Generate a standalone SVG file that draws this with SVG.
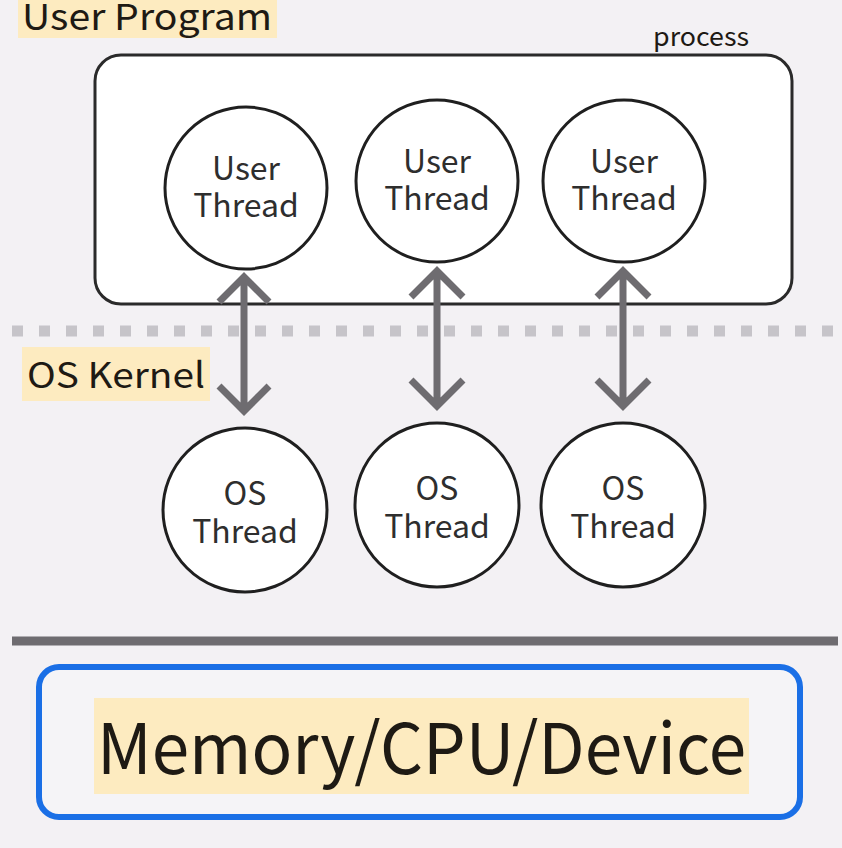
<svg xmlns="http://www.w3.org/2000/svg" width="842" height="848" viewBox="0 0 842 848">
<style>
text{font-family:"Noto Sans CJK JP","Noto Sans",sans-serif;fill:#1e1a14}
.hl{fill:#fdebc0}
.th{fill:#fff;stroke:#1f1f1f;stroke-width:3}
.tl{font-size:32px;text-anchor:middle;fill:#2e2e2e}
.conn{stroke:#6e6c70;stroke-width:7;fill:none;stroke-linecap:butt;stroke-linejoin:miter}
</style>
<rect width="842" height="848" fill="#f3f1f4"/>
<g id="user-program-label">
<rect class="hl" x="18" y="0" width="259" height="38"/>
<text x="22" y="30" font-size="36" textLength="250" lengthAdjust="spacingAndGlyphs">User Program</text>
</g>
<g id="process">
<rect x="95" y="55" width="697" height="249" rx="26" fill="#fff" stroke="#2a2a2a" stroke-width="3"/>
<text x="653" y="46" font-size="26" fill="#444" textLength="96" lengthAdjust="spacingAndGlyphs">process</text>
</g>
<g id="user-thread-1"><circle class="th" cx="246" cy="188" r="81"/><text class="tl" x="246" y="180">User</text><text class="tl" x="246" y="217">Thread</text></g>
<g id="user-thread-2"><circle class="th" cx="437" cy="181" r="81"/><text class="tl" x="437" y="173">User</text><text class="tl" x="437" y="210">Thread</text></g>
<g id="user-thread-3"><circle class="th" cx="624" cy="181" r="81"/><text class="tl" x="624" y="173">User</text><text class="tl" x="624" y="210">Thread</text></g>
<line x1="12" y1="331" x2="835" y2="331" stroke="#c6c4c9" stroke-width="11" stroke-dasharray="11 16"/>
<g id="os-kernel-label">
<rect class="hl" x="22" y="347" width="188" height="54"/>
<text x="27" y="388" font-size="35" textLength="178" lengthAdjust="spacingAndGlyphs">OS Kernel</text>
</g>
<g id="connectors">
<path class="conn" d="M244 278V410M219 302L244 277L269 302M219 386L244 411L269 386"/>
<path class="conn" d="M437 271V405M411 297L437 271L463 297M411 380L437 406L463 380"/>
<path class="conn" d="M623 271V405M597 297L623 271L649 297M597 380L623 406L649 380"/>
</g>
<g id="os-thread-1"><circle class="th" cx="245" cy="510" r="82"/><text class="tl" x="245" y="505">OS</text><text class="tl" x="245" y="543">Thread</text></g>
<g id="os-thread-2"><circle class="th" cx="437" cy="505" r="82"/><text class="tl" x="437" y="500">OS</text><text class="tl" x="437" y="538">Thread</text></g>
<g id="os-thread-3"><circle class="th" cx="623" cy="505" r="82"/><text class="tl" x="623" y="500">OS</text><text class="tl" x="623" y="538">Thread</text></g>
<line x1="12" y1="641" x2="838" y2="641" stroke="#6e6c70" stroke-width="9"/>
<g id="memory-cpu-device">
<rect x="39" y="667" width="761" height="150" rx="20" fill="#f5f4f7" stroke="#1a6fe6" stroke-width="6"/>
<rect class="hl" x="94" y="698" width="655" height="96"/>
<text x="97" y="774" font-size="70" fill="#111" textLength="649" lengthAdjust="spacingAndGlyphs">Memory/CPU/Device</text>
</g>
</svg>
